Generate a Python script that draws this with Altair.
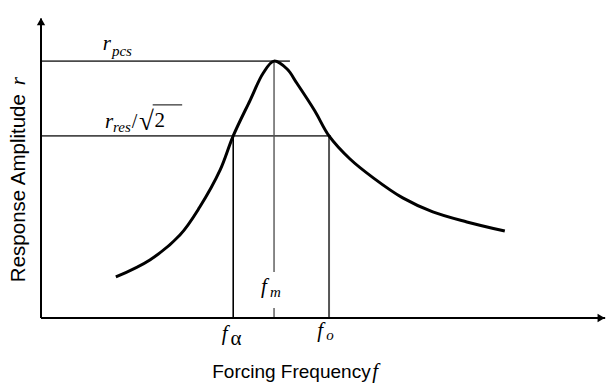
import altair as alt
import pandas as pd

# Resonance curve (frequency units, amplitude units)
f_curve = [1.32, 1.92, 2.45, 2.80, 3.16, 3.39, 3.69, 3.92, 4.11, 4.34,
           4.51, 4.83, 5.08, 5.45, 5.86, 6.38, 6.91, 7.51, 8.18]
r_curve = [1.35, 1.91, 2.73, 3.65, 4.87, 5.99, 7.17, 8.06, 8.45, 8.19,
           7.73, 6.81, 5.99, 5.23, 4.61, 3.95, 3.49, 3.16, 2.86]

f_alpha = 3.39
f_m = 4.11
f_o = 5.08
r_peak = 8.45
r_half = 5.99

XS = alt.Scale(domain=[0, 10], nice=False, zero=False)
YS = alt.Scale(domain=[0, 10], nice=False, zero=False)


def X(field="x"):
    return alt.X(f"{field}:Q", scale=XS, axis=None)


def Y(field="y"):
    return alt.Y(f"{field}:Q", scale=YS, axis=None)


curve = alt.Chart(pd.DataFrame({"x": f_curve, "y": r_curve})).mark_line(
    color="black", strokeWidth=3, interpolate="catmull-rom"
).encode(x=X(), y=Y())

# axes
axes_df = pd.DataFrame({"x": [0, 0], "x2": [0, 9.95], "y": [0, 0], "y2": [9.85, 0]})
axes = alt.Chart(axes_df).mark_rule(color="black", strokeWidth=2).encode(
    x=X(), x2="x2:Q", y=Y(), y2="y2:Q"
)
arrow_up = alt.Chart(pd.DataFrame({"x": [0], "y": [9.75]})).mark_point(
    shape="triangle-up", filled=True, color="black", size=70, opacity=1
).encode(x=X(), y=Y())
arrow_right = alt.Chart(pd.DataFrame({"x": [9.88], "y": [0]})).mark_point(
    shape="triangle-right", filled=True, color="black", size=70, opacity=1
).encode(x=X(), y=Y())

# horizontal reference lines
h_df = pd.DataFrame({"x": [0, 0], "x2": [4.39, 5.11], "y": [r_peak, r_half]})
hlines = alt.Chart(h_df).mark_rule(color="#4a4a4a", strokeWidth=1.6).encode(
    x=X(), x2="x2:Q", y=Y()
)

# vertical reference lines
v_alpha = alt.Chart(pd.DataFrame({"x": [f_alpha], "y": [0], "y2": [r_half]})).mark_rule(
    color="black", strokeWidth=1.6).encode(x=X(), y=Y(), y2="y2:Q")
v_o = alt.Chart(pd.DataFrame({"x": [f_o], "y": [0], "y2": [r_half]})).mark_rule(
    color="#555555", strokeWidth=2).encode(x=X(), y=Y(), y2="y2:Q")
v_m = alt.Chart(pd.DataFrame({"x": [f_m, f_m], "y": [1.51, 0], "y2": [r_peak, 0.33]})).mark_rule(
    color="#555555", strokeWidth=1.4).encode(x=X(), y=Y(), y2="y2:Q")


def texts(rows, font, size, style="normal", angle=0, align="left"):
    df = pd.DataFrame(rows, columns=["x", "y", "t"])
    kw = dict(font=font, fontSize=size, fontStyle=style, align=align,
              baseline="alphabetic", color="black")
    if angle:
        kw["angle"] = angle
    return alt.Chart(df).mark_text(**kw).encode(x=X(), y=Y(), text="t:N")


serif = "Liberation Serif"
sans = "Liberation Sans"

main_it = texts([
    [1.09, 8.82, "r"],
    [1.13, 6.25, "r"],
    [3.19, -0.72, "f"],
    [4.87, -0.63, "f"],
    [3.88, 0.82, "f"],
    [5.84, -1.97, "f"],
], serif, 21, "italic")
sub_it = texts([
    [1.27, 6.12, "res"],
    [1.25, 8.62, "pcs"],
    [5.03, -0.72, "o"],
    [4.04, 0.69, "m"],
], serif, 15, "italic")
alpha_t = texts([[3.34, -0.89, "α"]], serif, 21)
slash_t = texts([[1.60, 6.25, "/"]], serif, 20)
root_t = texts([[1.73, 6.19, "√"]], serif, 27)
two_t = texts([[2.00, 6.29, "2"]], serif, 21)
overline = alt.Chart(pd.DataFrame({"x": [1.97], "x2": [2.49], "y": [7.01]})).mark_rule(
    color="black", strokeWidth=1).encode(x=X(), x2="x2:Q", y=Y())

xtitle = texts([[3.02, -1.97, "Forcing Frequency"]], sans, 19)
ytitle = texts([[-0.28, 1.18, "Response Amplitude"]], sans, 20.5, angle=270)
ytitle_r = texts([[-0.28, 7.66, "r"]], serif, 21, "italic", angle=270)

chart = alt.layer(
    hlines, v_alpha, v_o, v_m, axes, arrow_up, arrow_right, curve,
    main_it, sub_it, alpha_t, slash_t, root_t, two_t, overline,
    xtitle, ytitle, ytitle_r
).properties(
    width=567, height=304,
    padding={"left": 41, "top": 14, "right": 1, "bottom": 66},
    autosize=alt.AutoSizeParams(type="none"),
    background="white",
).configure_view(stroke=None)

chart.save("out.html", embed_options={"renderer": "svg", "actions": False})
